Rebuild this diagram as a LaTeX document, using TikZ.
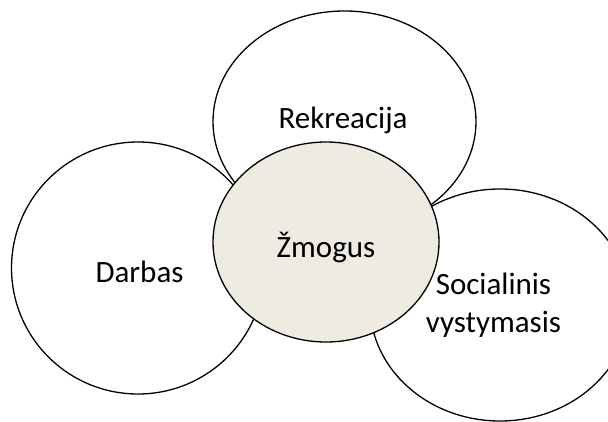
\documentclass[tikz,border=0pt]{standalone}
\usepackage{fontspec}
\setmainfont{Carlito}
\usetikzlibrary{shapes.geometric}
\definecolor{zmogusfill}{HTML}{EEECE1}
\tikzset{
  sphere/.style={ellipse, draw=black, line width=1.3pt, fill=white, inner sep=0pt, outer sep=0pt},
  word/.style={font=\fontsize{31}{38}\selectfont, inner sep=0pt, anchor=base, align=center}
}
\begin{document}
\begin{tikzpicture}[x=1pt, y=-1pt]
  \useasboundingbox (0,0) rectangle (608,421);
  % outer spheres
  \node[sphere, minimum width=263pt, minimum height=221pt] (rekreacija) at (344.5,121.5) {};
  \node[sphere, minimum width=253pt, minimum height=252pt] (darbas) at (138,268) {};
  \node[sphere, minimum width=260pt, minimum height=232pt] (socialinis) at (500,305) {};
  % centre
  \node[sphere, fill=zmogusfill, minimum width=226pt, minimum height=200pt] (zmogus) at (326,242) {};
  % texts
  \node[word] (trekreacija) at (343,128) {Rekreacija};
  \node[word] (tdarbas) at (139.5,282) {Darbas};
  \node[word] (tzmogus) at (326,257) {Žmogus};
  \node[word] (tsocialinis) at (493.5,332.5) {Socialinis\\vystymasis};
\end{tikzpicture}
\end{document}
